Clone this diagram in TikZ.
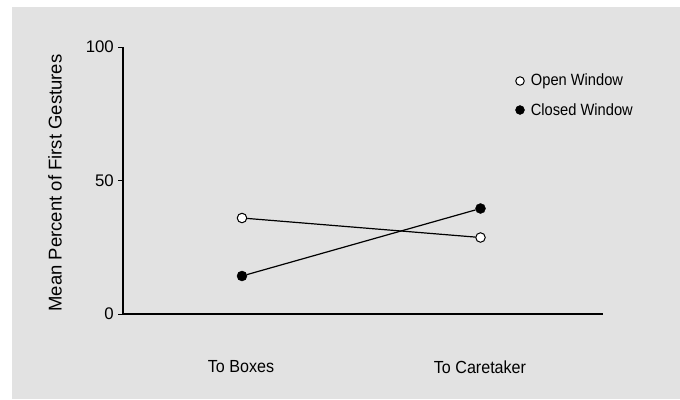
\documentclass[tikz,border=0pt]{standalone}
\usepackage{fontspec}
\setmainfont{Liberation Sans}
\usetikzlibrary{positioning}
\definecolor{panel}{HTML}{E2E2E2}

\begin{document}
\begin{tikzpicture}[x=1pt,y=-1pt,
  open/.style={circle,draw,fill=white,line width=1pt,inner sep=0,minimum size=9.5pt},
  closed/.style={circle,draw,fill=black,inner sep=0,minimum size=10pt},
  lab/.style={inner sep=0,font=\fontsize{17.5}{19}\selectfont,xscale=0.92},
  ticklab/.style={inner sep=0,font=\fontsize{16.8}{18}\selectfont},
  leg/.style={inner sep=0,font=\fontsize{16.3}{18}\selectfont,xscale=0.9}]
\useasboundingbox (0,0) rectangle (680,399);
\fill[panel] (12,7) rectangle (680,399);

% axes
\coordinate (y100) at (123,47);
\coordinate (y50) at (123,180.5);
\coordinate (y0) at (123,314);
\coordinate (xend) at (603,314);
\draw[line width=1.2pt] (y100) -- (y0) -- (xend);
\draw[line width=1pt] (y100) -- ++(-5,0);
\draw[line width=1pt] (y50) -- ++(-5,0);
\draw[line width=1pt] (y0) -- ++(-5,0);

% tick labels
\node[ticklab,left=9pt of y100] (t100) {100};
\node[ticklab,left=9pt of y50] (t50) {50};
\node[ticklab,left=9pt of y0] (t0) {0};
\node[inner sep=0,rotate=90,font=\fontsize{18.5}{20}\selectfont] (ylab) at (55,183) {Mean Percent of First Gestures};

% categories
\node[lab] (boxes) at (241,367) {To Boxes};
\node[lab] (care) at (480,367) {To Caretaker};

% data
\node[open] (ob) at (242,218) {};
\node[open] (oc) at (480.5,237.5) {};
\node[closed] (cb) at (242,276) {};
\node[closed] (cc) at (480.5,208.5) {};

\path[line width=1.2pt] (ob) edge (oc);
\path[line width=1.2pt] (cb) edge (cc);

% legend
\node[open,minimum size=8.5pt] (lo) at (520,81) {};
\node[closed,minimum size=9pt] (lc) at (520,110) {};
\node[leg,right=6pt of lo] (lotext) {Open Window};
\node[leg,right=6pt of lc] (lctext) {Closed Window};

\end{tikzpicture}
\end{document}
